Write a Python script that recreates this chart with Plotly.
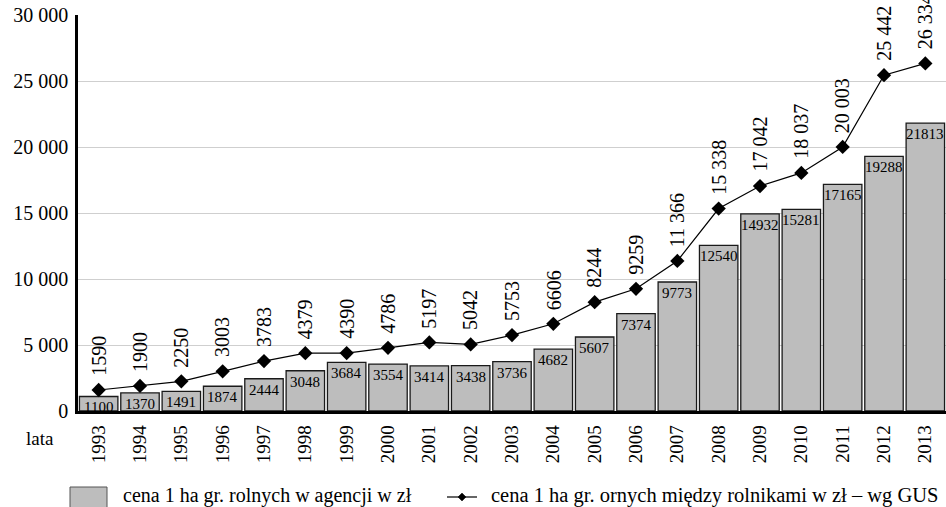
import plotly.graph_objects as go

years = [str(y) for y in range(1993, 2014)]
agency_price = [1100, 1370, 1491, 1874, 2444, 3048, 3684, 3554, 3414, 3438, 3736,
                4682, 5607, 7374, 9773, 12540, 14932, 15281, 17165, 19288, 21813]
gus_price = [1590, 1900, 2250, 3003, 3783, 4379, 4390, 4786, 5197, 5042, 5753,
             6606, 8244, 9259, 11366, 15338, 17042, 18037, 20003, 25442, 26334]
y_ticks = [0, 5000, 10000, 15000, 20000, 25000, 30000]

legend_bar = "cena 1 ha gr. rolnych w agencji w zł"
legend_line = "cena 1 ha gr. ornych między rolnikami w zł – wg GUS"

SERIF = "Liberation Serif"


def pl_format(v):
    # Polish style: space as thousands separator for values of 10 000 and more
    return f"{v:,}".replace(",", " ") if v >= 10000 else str(v)


def tick_format(v):
    return f"{v:,}".replace(",", " ")


fig = go.Figure()

fig.add_trace(go.Bar(
    x=years, y=agency_price, name=legend_bar,
    marker=dict(color="#bdbdbd", line=dict(color="#1a1a1a", width=1.3)),
    width=0.93, showlegend=False,
))

fig.add_trace(go.Scatter(
    x=years, y=gus_price, name=legend_line, mode="lines+markers",
    line=dict(color="#000000", width=1.2),
    marker=dict(symbol="diamond", size=11, color="#000000"),
    showlegend=False, cliponaxis=False,
))

# value labels; on a category axis annotations are placed by category index
annotations = []
for i, v in enumerate(agency_price):
    annotations.append(dict(
        x=i, y=v, xref="x", yref="y", text=str(v), showarrow=False,
        yanchor="top", yshift=-1, font=dict(family=SERIF, size=15, color="#000"),
    ))
for i, v in enumerate(gus_price):
    annotations.append(dict(
        x=i, y=v, xref="x", yref="y", text=pl_format(v), showarrow=False,
        textangle=-90, yanchor="bottom", yshift=12,
        font=dict(family=SERIF, size=20, color="#000"),
    ))

# axis caption under the y axis
annotations.append(dict(
    x=-0.044, y=-0.07, xref="paper", yref="paper", text="lata", showarrow=False,
    xanchor="center", yanchor="middle", font=dict(family=SERIF, size=19, color="#000"),
))

# hand-drawn legend below the plot
W, H, L, T = 868.0, 396.0, 78.0, 15.0


def px(xp):
    return (xp - L) / W


def py(yp):
    return (T + H - yp) / H


shapes = [
    dict(type="rect", xref="paper", yref="paper",
         x0=px(70), x1=px(107), y0=py(487), y1=py(512),
         fillcolor="#bdbdbd", line=dict(color="#555", width=1)),
    dict(type="line", xref="paper", yref="paper",
         x0=px(447), x1=px(477), y0=py(497), y1=py(497),
         line=dict(color="#000", width=1.2)),
    dict(type="path", xref="paper", yref="paper",
         path=f"M {px(458)},{py(497)} L {px(462)},{py(493)} L {px(466)},{py(497)} "
              f"L {px(462)},{py(501)} Z",
         fillcolor="#000", line=dict(color="#000", width=0.5)),
]
annotations.append(dict(
    x=px(121), y=py(496), xref="paper", yref="paper", text=legend_bar,
    showarrow=False, xanchor="left", yanchor="middle",
    font=dict(family=SERIF, size=20, color="#000"),
))
annotations.append(dict(
    x=px(489), y=py(496), xref="paper", yref="paper", text=legend_line,
    showarrow=False, xanchor="left", yanchor="middle",
    font=dict(family=SERIF, size=20.5, color="#000"),
))

fig.update_layout(
    width=946, height=507,
    margin=dict(l=78, r=0, t=15, b=96),
    paper_bgcolor="#ffffff", plot_bgcolor="#ffffff",
    bargap=0.07,
    annotations=annotations, shapes=shapes,
    font=dict(family=SERIF, color="#000"),
)
fig.update_xaxes(
    type="category", tickangle=-90, ticks="",
    tickfont=dict(family=SERIF, size=19, color="#000"),
    showline=True, linecolor="#000", linewidth=2.5, ticklabelstandoff=4,
    showgrid=False, range=[-0.5, 20.5],
)
fig.update_yaxes(
    range=[0, 30000], tickvals=y_ticks, ticktext=[tick_format(v) for v in y_ticks],
    tickfont=dict(family=SERIF, size=20, color="#000"),
    showline=True, linecolor="#000", linewidth=2.5,
    showgrid=True, gridcolor="#cfcfcf", gridwidth=1, zeroline=False,
    ticks="", ticklabelstandoff=3,
)

fig.write_html("out.html")
